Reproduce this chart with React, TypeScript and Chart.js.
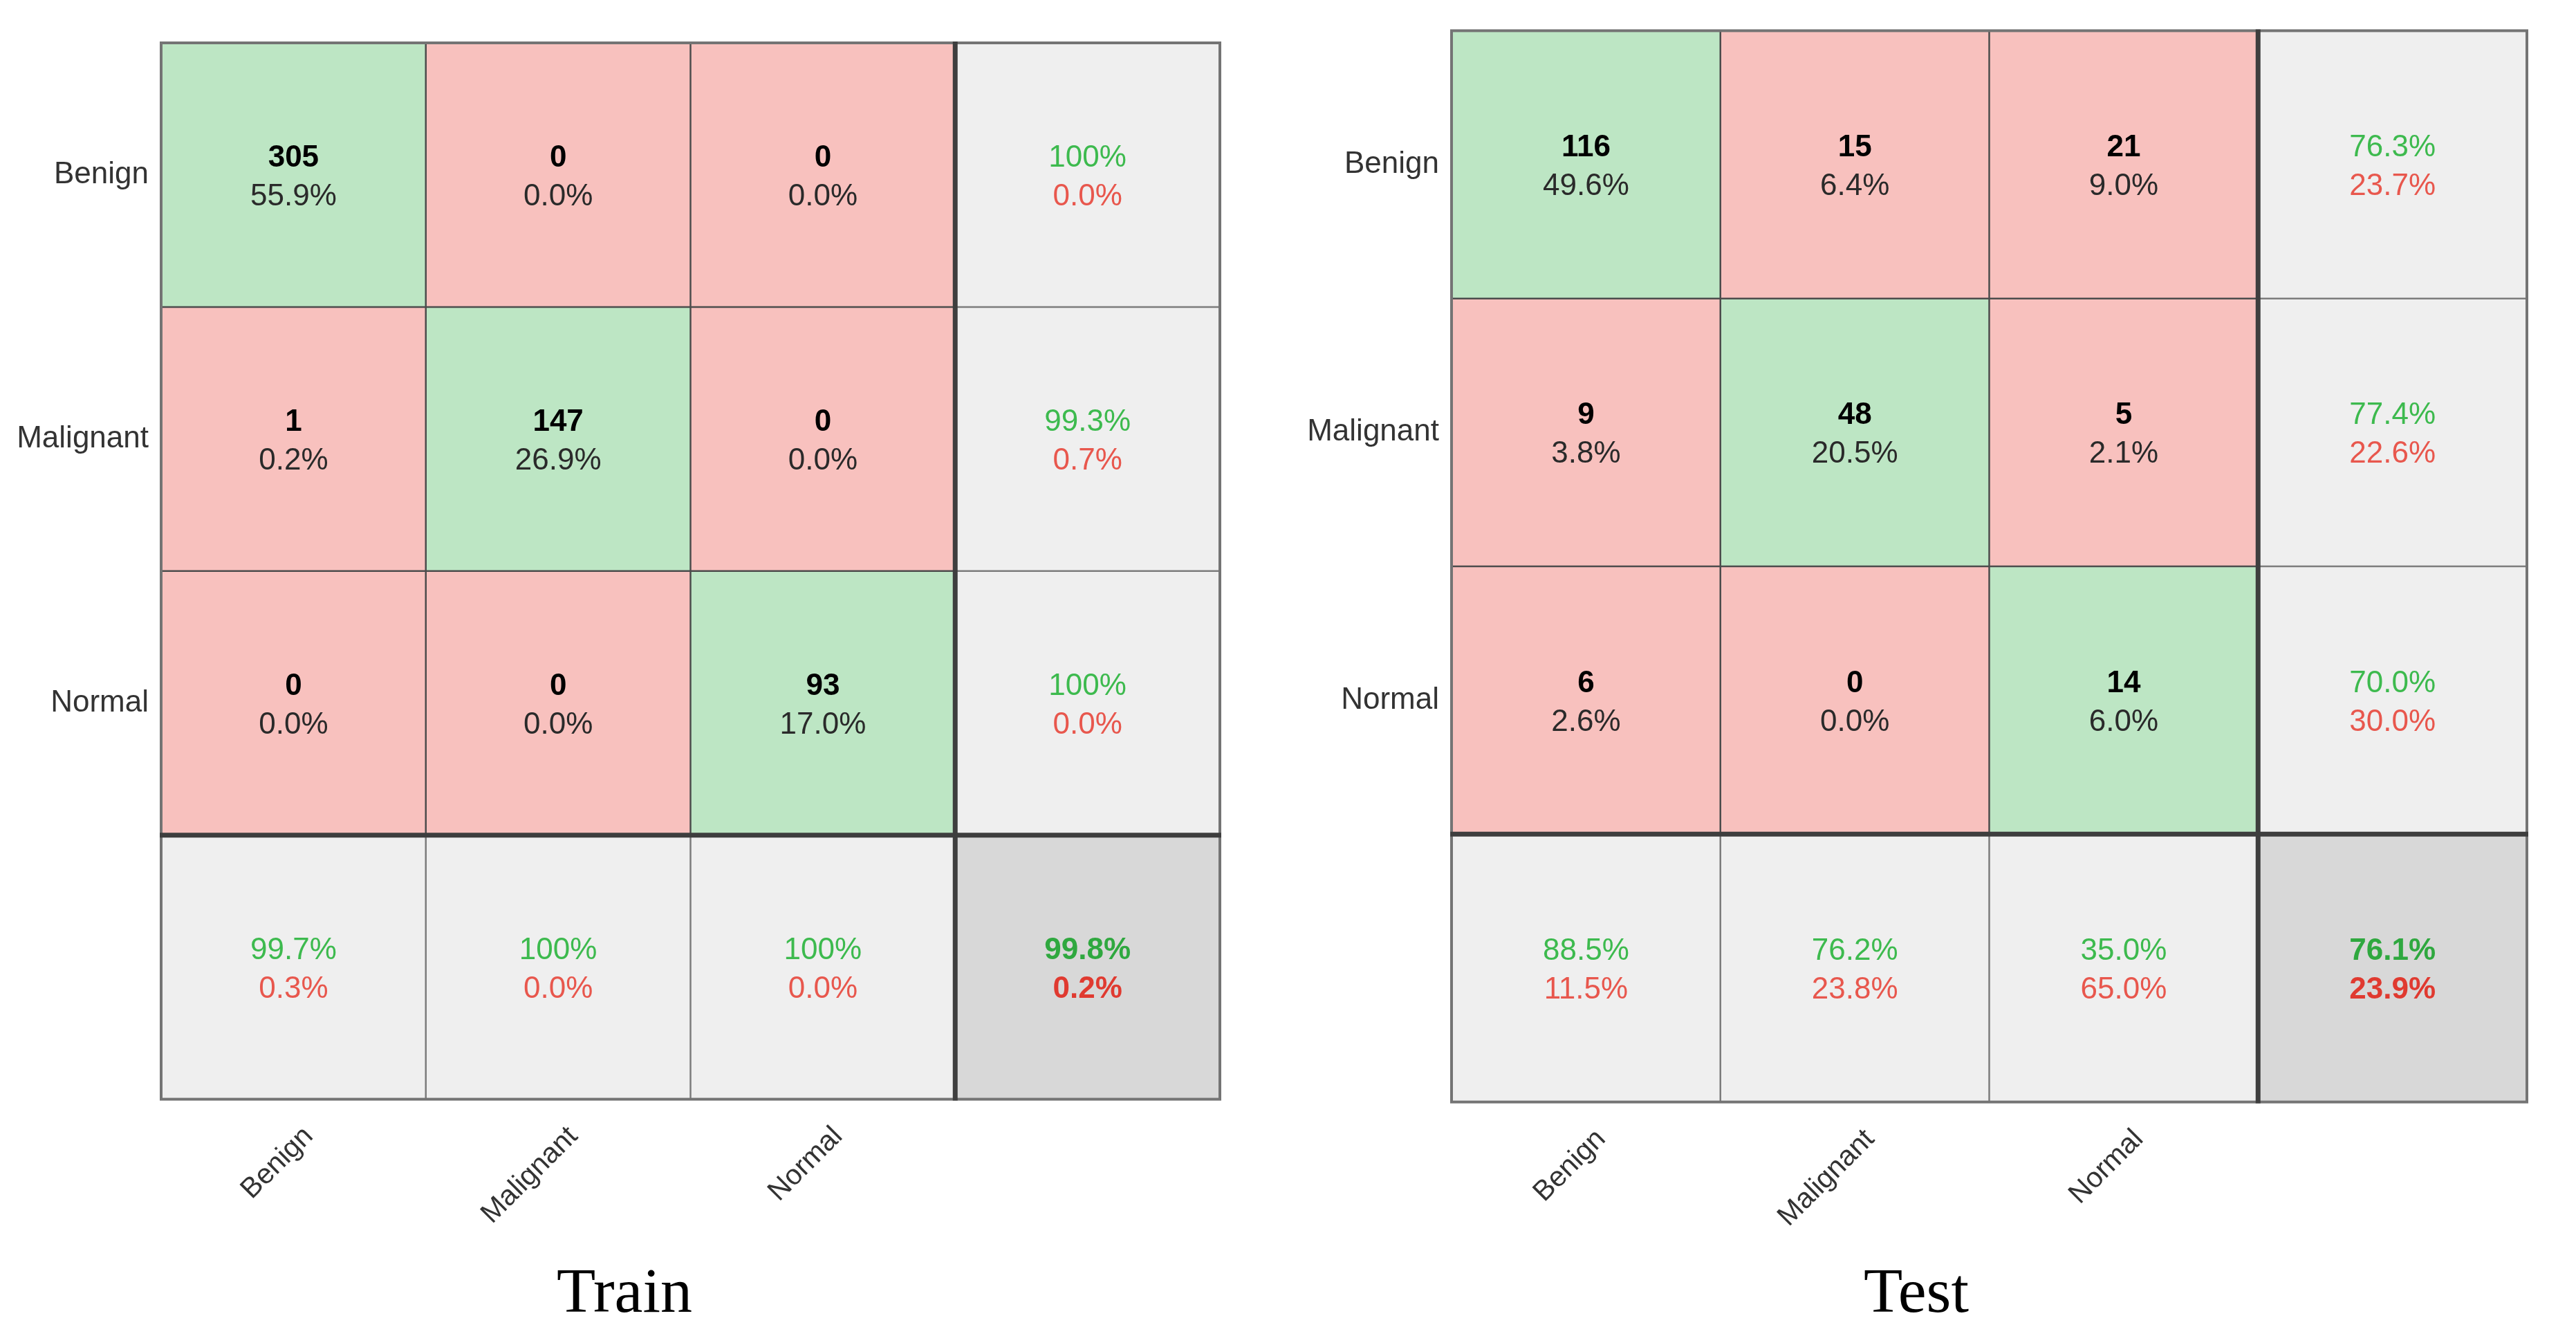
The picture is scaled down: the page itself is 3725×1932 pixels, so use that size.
import React, { useEffect, useRef } from 'react';
import { Chart, registerables } from 'chart.js';

Chart.register(...registerables);

// ---------- data ----------
const classes = ['Benign', 'Malignant', 'Normal'];
const xTickLabels = ['Benign', 'Malignant', 'Normal', ''];

// Train: counts (row = output class, col = target class)
const trainCountsBenign = [305, 0, 0];
const trainCountsMalignant = [1, 147, 0];
const trainCountsNormal = [0, 0, 93];
const trainPctBenign = [55.9, 0.0, 0.0];
const trainPctMalignant = [0.2, 26.9, 0.0];
const trainPctNormal = [0.0, 0.0, 17.0];
const trainRowCorrect = [100, 99.3, 100];
const trainRowWrong = [0.0, 0.7, 0.0];
const trainColCorrect = [99.7, 100, 100];
const trainColWrong = [0.3, 0.0, 0.0];
const trainTotal = [99.8, 0.2];

// Test
const testCountsBenign = [116, 15, 21];
const testCountsMalignant = [9, 48, 5];
const testCountsNormal = [6, 0, 14];
const testPctBenign = [49.6, 6.4, 9.0];
const testPctMalignant = [3.8, 20.5, 2.1];
const testPctNormal = [2.6, 0.0, 6.0];
const testRowCorrect = [76.3, 77.4, 70.0];
const testRowWrong = [23.7, 22.6, 30.0];
const testColCorrect = [88.5, 76.2, 35.0];
const testColWrong = [11.5, 23.8, 65.0];
const testTotal = [76.1, 23.9];

// ---------- styles ----------
const GREEN_CELL = '#bde6c4';
const RED_CELL = '#f8c1be';
const GRAY_CELL = '#efefef';
const CORNER_CELL = '#d8d8d8';
const GREEN_TXT = '#3dba4e';
const RED_TXT = '#e8574d';
const GREEN_TXT_B = '#2fa83f';
const RED_TXT_B = '#e03a30';
const FONT = '"Liberation Sans", Arial, sans-serif';

type Matrix = {
  counts: number[][];
  pct: number[][];
  rowCorrect: number[];
  rowWrong: number[];
  colCorrect: number[];
  colWrong: number[];
  total: number[];
};

const fmt = (v: number) => (v === 100 ? '100%' : v.toFixed(1) + '%');

function cellColor(r: number, c: number) {
  if (r === 3 && c === 3) return CORNER_CELL;
  if (r === 3 || c === 3) return GRAY_CELL;
  return r === c ? GREEN_CELL : RED_CELL;
}

function makeCellPlugin(m: Matrix) {
  return {
    id: 'confusionCells',
    afterDatasetsDraw(chart: any) {
      const ctx = chart.ctx as CanvasRenderingContext2D;
      const yS = chart.scales.y;
      const meta0 = chart.getDatasetMeta(0);
      const colEdges: number[] = [];
      for (let c = 0; c < 4; c++) {
        const el = meta0.data[c];
        colEdges.push(el.x - el.width / 2);
        if (c === 3) colEdges.push(el.x + el.width / 2);
      }
      const rowEdges = [0, 1, 2, 3, 4].map((v) => yS.getPixelForValue(v));

      const line = (x1: number, y1: number, x2: number, y2: number, w: number, col: string) => {
        ctx.beginPath();
        ctx.strokeStyle = col;
        ctx.lineWidth = w;
        ctx.moveTo(x1, y1);
        ctx.lineTo(x2, y2);
        ctx.stroke();
      };
      ctx.save();
      // thin inner lines
      for (const i of [1, 2]) {
        line(colEdges[i], rowEdges[0], colEdges[i], rowEdges[3], 2.5, '#4c4c4c');
        line(colEdges[i], rowEdges[3], colEdges[i], rowEdges[4], 2.5, '#7c7c7c');
        line(colEdges[0], rowEdges[i], colEdges[3], rowEdges[i], 2.5, '#4c4c4c');
        line(colEdges[3], rowEdges[i], colEdges[4], rowEdges[i], 2.5, '#7c7c7c');
      }
      // outer border
      ctx.strokeStyle = '#747474';
      ctx.lineWidth = 4;
      ctx.strokeRect(colEdges[0], rowEdges[0], colEdges[4] - colEdges[0], rowEdges[4] - rowEdges[0]);
      // thick separators
      line(colEdges[3], rowEdges[0] - 2, colEdges[3], rowEdges[4] + 2, 7, '#3e3e3e');
      line(colEdges[0] - 2, rowEdges[3], colEdges[4] + 2, rowEdges[3], 7, '#3e3e3e');

      // texts
      ctx.textAlign = 'center';
      ctx.textBaseline = 'middle';
      for (let r = 0; r < 4; r++) {
        const meta = chart.getDatasetMeta(r);
        for (let c = 0; c < 4; c++) {
          const el = meta.data[c];
          const cx = el.x;
          const cy = (el.y + el.base) / 2;
          let top: string, bot: string, topCol: string, botCol: string, topW: string, botW: string;
          if (r < 3 && c < 3) {
            top = String(m.counts[r][c]);
            bot = m.pct[r][c].toFixed(1) + '%';
            topCol = '#000000';
            botCol = '#2a2a2a';
            topW = 'bold';
            botW = 'normal';
          } else if (r < 3 && c === 3) {
            top = fmt(m.rowCorrect[r]);
            bot = fmt(m.rowWrong[r]);
            topCol = GREEN_TXT;
            botCol = RED_TXT;
            topW = botW = 'normal';
          } else if (r === 3 && c < 3) {
            top = fmt(m.colCorrect[c]);
            bot = fmt(m.colWrong[c]);
            topCol = GREEN_TXT;
            botCol = RED_TXT;
            topW = botW = 'normal';
          } else {
            top = fmt(m.total[0]);
            bot = fmt(m.total[1]);
            topCol = GREEN_TXT_B;
            botCol = RED_TXT_B;
            topW = botW = 'bold';
          }
          ctx.font = `${topW} 44px ${FONT}`;
          ctx.fillStyle = topCol;
          ctx.fillText(top, cx, cy - 24);
          ctx.font = `${botW} 44px ${FONT}`;
          ctx.fillStyle = botCol;
          ctx.fillText(bot, cx, cy + 32);
        }
      }
      ctx.restore();
    },
  };
}

type Geo = {
  left: number;
  width: number;
  padRight: number;
  padTop: number;
  yAxisWidth: number;
  rightGap: number;
  xAxisHeight: number;
};

function ConfusionChart({ m, title, geo }: { m: Matrix; title: string; geo: Geo }) {
  const ref = useRef<HTMLCanvasElement | null>(null);
  useEffect(() => {
    if (!ref.current) return;
    const rows = [0, 1, 2, 3];
    const datasets = rows.map((r) => ({
      label: 'row' + r,
      data: xTickLabels.map(() => [r, r + 1]),
      backgroundColor: xTickLabels.map((_, c) => cellColor(r, c)),
      borderWidth: 0,
      barPercentage: 1,
      categoryPercentage: 1,
      grouped: false,
    }));
    const chart = new Chart(ref.current, {
      type: 'bar',
      data: { labels: xTickLabels, datasets: datasets as any },
      options: {
        animation: false,
        responsive: false,
        devicePixelRatio: 1,
        layout: { padding: { left: 0, right: geo.padRight, top: geo.padTop, bottom: 0 } },
        plugins: {
          legend: { display: false },
          tooltip: { enabled: false },
          title: {
            display: true,
            position: 'bottom',
            text: title,
            color: '#000',
            font: { family: '"Liberation Serif", "Times New Roman", serif', size: 92, weight: 'normal', lineHeight: 1.2 },
            padding: { top: 14, bottom: 4 },
          },
        },
        scales: {
          x: {
            type: 'category',
            grid: { display: false, drawTicks: false },
            border: { display: false },
            ticks: {
              autoSkip: false,
              minRotation: 45,
              maxRotation: 45,
              padding: 30,
              labelOffset: 22,
              color: '#333333',
              font: { family: FONT, size: 41 },
            },
            afterFit: (s: any) => {
              s.height = geo.xAxisHeight;
            },
          },
          y: {
            type: 'linear',
            min: 0,
            max: 4,
            reverse: true,
            grid: { display: false, drawTicks: false },
            border: { display: false },
            afterBuildTicks: (s: any) => {
              s.ticks = [0.5, 1.5, 2.5].map((v) => ({ value: v }));
            },
            ticks: {
              padding: 18,
              color: '#333333',
              font: { family: FONT, size: 44 },
              callback: (_v: any, i: number) => classes[i],
            },
            afterFit: (s: any) => {
              s.width = geo.yAxisWidth;
            },
          },
          yGap: {
            type: 'linear',
            position: 'right',
            display: true,
            grid: { display: false, drawTicks: false },
            border: { display: false },
            ticks: { display: false },
            afterFit: (s: any) => {
              s.width = geo.rightGap;
            },
          },
        },
      } as any,
      plugins: [makeCellPlugin(m)],
    });
    return () => chart.destroy();
  }, []);
  return (
    <canvas
      ref={ref}
      width={geo.width}
      height={1932}
      style={{ position: 'absolute', left: geo.left, top: 0, width: geo.width, height: 1932 }}
    />
  );
}

const trainMatrix: Matrix = {
  counts: [trainCountsBenign, trainCountsMalignant, trainCountsNormal],
  pct: [trainPctBenign, trainPctMalignant, trainPctNormal],
  rowCorrect: trainRowCorrect,
  rowWrong: trainRowWrong,
  colCorrect: trainColCorrect,
  colWrong: trainColWrong,
  total: trainTotal,
};

const testMatrix: Matrix = {
  counts: [testCountsBenign, testCountsMalignant, testCountsNormal],
  pct: [testPctBenign, testPctMalignant, testPctNormal],
  rowCorrect: testRowCorrect,
  rowWrong: testRowWrong,
  colCorrect: testColCorrect,
  colWrong: testColWrong,
  total: testTotal,
};

export default function App() {
  return (
    <div style={{ position: 'fixed', left: 0, top: 0, width: 3725, height: 1932, background: '#fff', overflow: 'hidden' }}>
      <ConfusionChart
        m={trainMatrix}
        title="Train"
        geo={{ left: 0, width: 1850, padRight: 44, padTop: 62, yAxisWidth: 233, rightGap: 42, xAxisHeight: 214 }}
      />
      <ConfusionChart
        m={testMatrix}
        title="Test"
        geo={{ left: 1850, width: 1875, padRight: 33, padTop: 43, yAxisWidth: 249, rightGap: 38, xAxisHeight: 210 }}
      />
    </div>
  );
}
